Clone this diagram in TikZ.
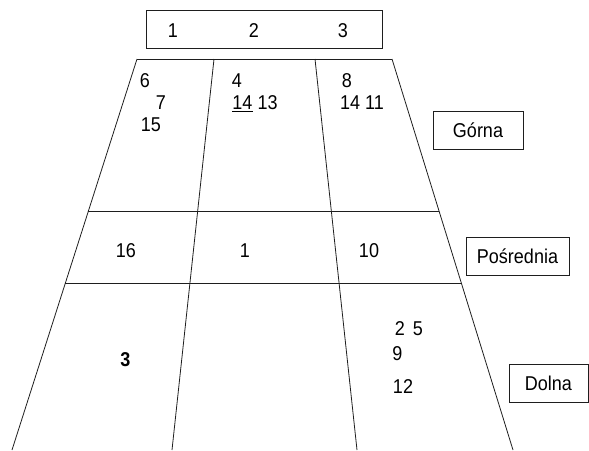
\documentclass[tikz,border=0pt]{standalone}
\usepackage{fontspec}
\setmainfont[FakeStretch=0.9]{Liberation Sans}
\usepackage{tikz}
\usetikzlibrary{calc}
\definecolor{inkgray}{RGB}{30,30,30}

\begin{document}
\begin{tikzpicture}[x=1pt, y=-1pt,
  num/.style={font=\fontsize{20}{20}\selectfont, anchor=base, inner sep=0pt},
  layerbox/.style={draw=inkgray, line width=0.7pt, font=\fontsize{20}{20}\selectfont, inner sep=0pt, minimum height=38pt},
  edge/.style={line width=0.8pt, inkgray}]
  \useasboundingbox (0,0) rectangle (589,450);

  % przekroj lasu
  \coordinate (ol-t) at (137,59);  \coordinate (ol-b) at (12,450);
  \coordinate (il-t) at (214,59);  \coordinate (il-b) at (172,450);
  \coordinate (ir-t) at (315,59);  \coordinate (ir-b) at (357,450);
  \coordinate (or-t) at (392,59);  \coordinate (or-b) at (513,450);
  \draw[edge] (ol-t) -- (or-t);
  \draw[edge] (ol-t) -- (ol-b);
  \draw[edge] (il-t) -- (il-b);
  \draw[edge] (ir-t) -- (ir-b);
  \draw[edge] (or-t) -- (or-b);
  \draw[edge] ($(ol-t)!0.391!(ol-b)$) -- ($(or-t)!0.391!(or-b)$);
  \draw[edge] ($(ol-t)!0.575!(ol-b)$) -- ($(or-t)!0.575!(or-b)$);

  \node[layerbox, minimum width=236pt] (sectors) at (264,29) {};
  \node[num] (s1) at (173,37.3) {1};
  \node[num] (s2) at (254,37.3) {2};
  \node[num] (s3) at (343,37.3) {3};

  \node[layerbox, minimum width=90pt] (gorna) at (478,130) {Górna};
  \node[layerbox, minimum width=103pt] (posrednia) at (517.5,256) {Pośrednia};
  \node[layerbox, minimum width=79pt] (dolna) at (548.5,383) {Dolna};

  \node[num] (g6) at (145,87.3) {6};
  \node[num] (g7) at (161,109.5) {7};
  \node[num] (g15) at (151,131.7) {15};
  \node[num] (g4) at (237,87.3) {4};
  \node[num] (g1413) at (255,109.5) {\underline{14} 13};
  \node[num] (g8) at (347,87.3) {8};
  \node[num] (g1411) at (362,109.5) {14 11};

  \node[num] (p16) at (126,257.3) {16};
  \node[num] (p1) at (245,257.3) {1};
  \node[num] (p10) at (369,257.3) {10};

  \node[num, font=\fontsize{20}{20}\selectfont\bfseries] (d3) at (125.5,366.7) {3};
  \node[num] (d25) at (409,335) {2\hspace{0.4em}5};
  \node[num] (d9) at (397.5,360) {9};
  \node[num] (d12) at (403,393.3) {12};
\end{tikzpicture}
\end{document}
